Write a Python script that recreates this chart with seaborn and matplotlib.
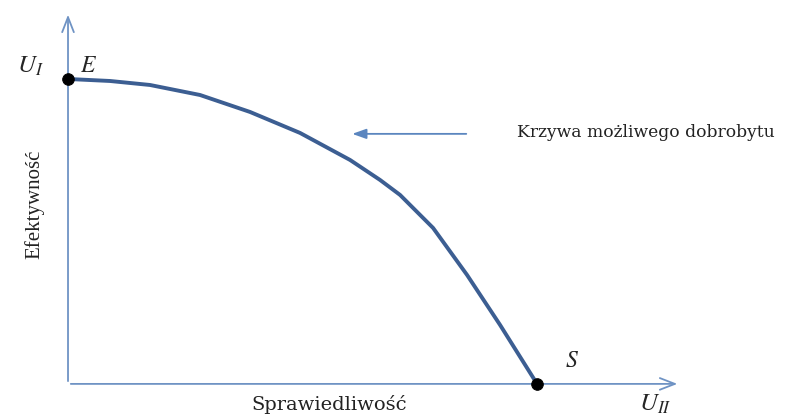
import matplotlib
matplotlib.use("Agg")
import matplotlib.pyplot as plt
import seaborn as sns
import pandas as pd

# Curve data (utility possibility frontier), normalized units
curve_x = [0.0, 0.0896, 0.1748, 0.2814, 0.3881, 0.4947, 0.6013, 0.6652, 0.7079, 0.7783, 0.8507, 0.9211, 1.0]
curve_y = [1.0, 0.9934, 0.9803, 0.9475, 0.8918, 0.8230, 0.7344, 0.6689, 0.6197, 0.5115, 0.3574, 0.1934, 0.0]
point_labels = ["E", "S"]
point_x = [0.0, 1.0]
point_y = [1.0, 0.0]

sns.set_theme(style="white")
plt.rcParams["font.family"] = ["Liberation Serif", "DejaVu Serif"]
plt.rcParams["mathtext.fontset"] = "stix"

fig = plt.figure(figsize=(7.88, 4.15), dpi=100)
ax = fig.add_axes([0, 0, 1, 1])
ax.set_xlim(-0.145, 1.535)
ax.set_ylim(-0.102, 1.259)
ax.axis("off")

axis_color = "#6f93c4"
curve_color = "#3c5e92"

# axes arrows
ax.annotate("", xy=(1.305, 0), xytext=(0, 0),
            arrowprops=dict(arrowstyle="->,head_length=0.9,head_width=0.35", color=axis_color, lw=1.3))
ax.annotate("", xy=(0, 1.22), xytext=(0, 0),
            arrowprops=dict(arrowstyle="->,head_length=0.9,head_width=0.35", color=axis_color, lw=1.3))

df = pd.DataFrame({"x": curve_x, "y": curve_y})
sns.lineplot(data=df, x="x", y="y", ax=ax, color=curve_color, lw=2.8, sort=False)
sns.scatterplot(x=point_x, y=point_y, ax=ax, color="black", s=70, zorder=5, edgecolor="black")

# annotation arrow
ax.annotate("", xy=(0.600, 0.820), xytext=(0.855, 0.820),
            arrowprops=dict(arrowstyle="-|>,head_length=0.7,head_width=0.25", color="#5b86bf", lw=1.3))
ax.text(0.957, 0.823, "Krzywa możliwego dobrobytu", fontsize=12.3, ha="left", va="center",
        color="#222222", family="DejaVu Serif")

ax.text(0.025, 1.04, "$E$", fontsize=17, ha="left", va="center")
ax.text(1.06, 0.075, "$S$", fontsize=17, ha="left", va="center")
ax.text(-0.08, 1.04, "$U_I$", fontsize=18, ha="center", va="center")
ax.text(1.252, -0.068, "$U_{II}$", fontsize=18, ha="center", va="center")
ax.text(-0.072, 0.59, "Efektywność", fontsize=15, rotation=90, ha="center", va="center", color="#222222")
ax.text(0.556, -0.068, "Sprawiedliwość", fontsize=14, ha="center", va="center", color="#222222",
        family="DejaVu Serif")

fig.savefig("out.png", dpi=100)
